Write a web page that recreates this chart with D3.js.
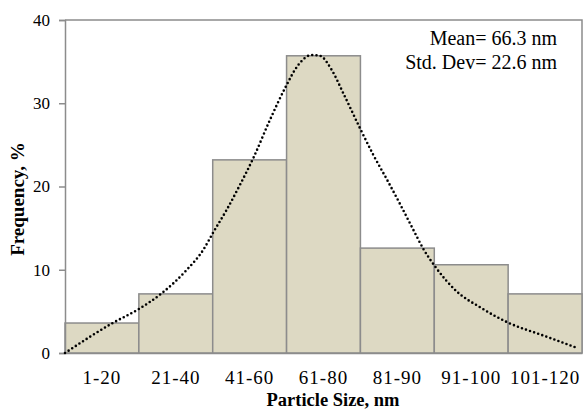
<!DOCTYPE html>
<html>
<head>
<meta charset="utf-8">
<script src="https://cdn.jsdelivr.net/npm/d3@7"></script>
<style>
  body { margin: 0; background: #fff; }
  svg text { font-family: "Times New Roman", "Liberation Serif", Times, "DejaVu Serif", serif; fill: #000; }
</style>
</head>
<body>
<div id="chart"></div>
<script>
// size bins and frequency (%)
const sizeBins = ["1-20", "21-40", "41-60", "61-80", "81-90", "91-100", "101-120"];
const frequency = [3.6, 7.1, 23.2, 35.7, 12.6, 10.6, 7.1];

// fitted curve, x in bin units (0 = left edge of first bin), y in %
const curveX = [0, 0.654, 0.993, 1.309, 1.647, 1.873, 2.008, 2.189, 2.369, 2.549, 2.775, 2.978,
  3.159, 3.34, 3.452, 3.611, 3.768, 3.994, 4.174, 4.355, 4.536, 4.716, 4.852, 5.01, 5.303,
  5.619, 6.002, 6.476, 6.95];
const curveY = [0, 3.64, 5.25, 7.17, 9.97, 12.4, 14.5, 17.2, 20.2, 23.4, 28.0, 31.8,
  34.6, 35.8, 35.7, 34.0, 31.2, 27.0, 23.8, 20.9, 17.9, 14.8, 12.5, 10.4, 7.4,
  5.5, 3.64, 2.1, 0.56];

const yTicks = [0, 10, 20, 30, 40];
const stats = ["Mean= 66.3 nm", "Std. Dev= 22.6 nm"];

const width = 587, height = 410;
const margin = { top: 20, right: 5, bottom: 57, left: 65 };

const svg = d3.select("#chart").append("svg")
  .attr("width", width)
  .attr("height", height);

const x = d3.scaleBand()
  .domain(sizeBins)
  .range([margin.left, width - margin.right])
  .padding(0);

const xc = d3.scaleLinear()
  .domain([0, sizeBins.length])
  .range([margin.left, width - margin.right]);

const y = d3.scaleLinear()
  .domain([0, 40])
  .range([height - margin.bottom, margin.top]);

// frame on top and right
svg.append("path")
  .attr("d", `M${margin.left},${margin.top}H${width - margin.right}V${height - margin.bottom}`)
  .attr("fill", "none")
  .attr("stroke", "#8c8c8c")
  .attr("stroke-width", 1.5);

// bars
svg.selectAll("rect.bar")
  .data(frequency)
  .enter()
  .append("rect")
  .attr("class", "bar")
  .attr("x", (d, i) => x(sizeBins[i]))
  .attr("y", d => y(d))
  .attr("width", x.bandwidth())
  .attr("height", d => y(0) - y(d))
  .attr("fill", "#ddd9c3")
  .attr("stroke", "#8c8c8c")
  .attr("stroke-width", 1.5);

// y axis
const yAxis = svg.append("g")
  .attr("transform", `translate(${margin.left},0)`)
  .call(d3.axisLeft(y).tickValues(yTicks).tickSize(6).tickPadding(9));
yAxis.select(".domain").attr("stroke", "#8c8c8c").attr("stroke-width", 1.5);
yAxis.selectAll(".tick line").attr("stroke", "#8c8c8c").attr("stroke-width", 1.5);
yAxis.selectAll(".tick text")
  .attr("fill", "#000")
  .style("font-size", "17px");

// x axis
const xAxis = svg.append("g")
  .attr("transform", `translate(0,${y(0)})`)
  .call(d3.axisBottom(x).tickSize(0).tickPadding(17.5));
xAxis.select(".domain").attr("stroke", "#8c8c8c").attr("stroke-width", 1.5);
xAxis.selectAll(".tick text")
  .attr("fill", "#000")
  .style("font-size", "19px")
  .style("letter-spacing", "1px");

// fitted curve, dotted
const line = d3.line()
  .x((d, i) => xc(curveX[i]))
  .y(d => y(d))
  .curve(d3.curveMonotoneX);

svg.append("path")
  .datum(curveY)
  .attr("d", line)
  .attr("fill", "none")
  .attr("stroke", "#000")
  .attr("stroke-width", 2.6)
  .attr("stroke-linecap", "round")
  .attr("stroke-dasharray", "0,4.3");

// statistics text
svg.selectAll("text.stat")
  .data(stats)
  .enter()
  .append("text")
  .attr("class", "stat")
  .attr("x", 557)
  .attr("y", (d, i) => 45 + i * 24)
  .attr("text-anchor", "end")
  .style("font-size", "20px")
  .text(d => d);

// axis titles
svg.append("text")
  .attr("x", 333)
  .attr("y", 405.5)
  .attr("text-anchor", "middle")
  .style("font-size", "18.5px")
  .style("font-weight", "bold")
  .text("Particle Size, nm");

svg.append("text")
  .attr("transform", "translate(24,199) rotate(-90)")
  .attr("text-anchor", "middle")
  .style("font-size", "19px")
  .style("font-weight", "bold")
  .text("Frequency, %");
</script>
</body>
</html>
